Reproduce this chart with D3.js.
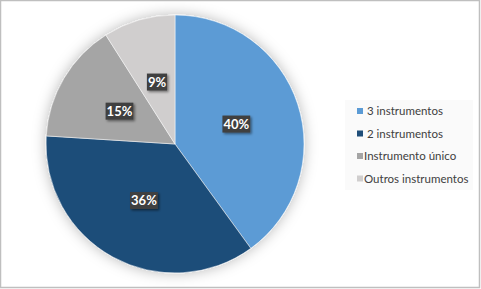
<!DOCTYPE html>
<html>
<head>
<meta charset="utf-8">
<script src="https://cdn.jsdelivr.net/npm/d3@7"></script>
<style>
  body { margin: 0; background: #fff; }
  text { font-family: Lato, "Open Sans", "DejaVu Sans", sans-serif; }
</style>
</head>
<body>
<div id="chart"></div>
<script>
// chart data
var categories = [" 3 instrumentos", " 2 instrumentos", "Instrumento único", "Outros instrumentos"];
var values = [40, 36, 15, 9];
var colors = ["#5b9bd5", "#1f4e79", "#a5a5a5", "#d0cece"];

var svgWidth = 481;
var svgHeight = 289;

var svg = d3.select("#chart")
    .append("svg")
    .attr("width", svgWidth)
    .attr("height", svgHeight);

var defs = svg.append("defs");

var pieShadow = defs.append("filter")
    .attr("id", "pieShadow")
    .attr("x", "-30%").attr("y", "-30%")
    .attr("width", "160%").attr("height", "160%");
pieShadow.append("feDropShadow")
    .attr("dx", 0).attr("dy", 0)
    .attr("stdDeviation", 7)
    .attr("flood-color", "#000")
    .attr("flood-opacity", 0.28);

var boxShadow = defs.append("filter")
    .attr("id", "boxShadow")
    .attr("x", "-30%").attr("y", "-30%")
    .attr("width", "160%").attr("height", "160%");
boxShadow.append("feDropShadow")
    .attr("dx", 1.5).attr("dy", 1.5)
    .attr("stdDeviation", 1.2)
    .attr("flood-color", "#000")
    .attr("flood-opacity", 0.45);

// outer border
svg.append("rect")
    .attr("x", 0.5).attr("y", 0.5)
    .attr("width", 479).attr("height", 287)
    .attr("fill", "#fff")
    .attr("stroke", "#bfbfbf")
    .attr("stroke-width", 1.5);

// Pie
var cx = 175, cy = 144, radius = 129;

var pie = d3.pie().sort(null).value(d => d);
var arcs = pie(values);

var arc = d3.arc().innerRadius(0).outerRadius(radius);
var labelArc = d3.arc().innerRadius(radius * 0.5).outerRadius(radius * 0.5);

var pieGroup = svg.append("g")
    .attr("transform", `translate(${cx}, ${cy})`);

pieGroup.append("g")
    .attr("filter", "url(#pieShadow)")
    .selectAll("path")
    .data(arcs)
    .enter()
    .append("path")
    .attr("d", arc)
    .attr("fill", (d, i) => colors[i])
    .attr("stroke", "#fff")
    .attr("stroke-width", 0.5);

// data labels
var labels = pieGroup.selectAll(".dlabel")
    .data(arcs)
    .enter()
    .append("g")
    .attr("class", "dlabel")
    .attr("transform", d => {
        var c = labelArc.centroid(d);
        return `translate(${c[0]}, ${c[1]})`;
    });

labels.each(function (d) {
    var g = d3.select(this);
    var txt = Math.round(d.value) + "%";
    var w = txt.length * 7.6 + 5;
    g.append("rect")
        .attr("x", -w / 2).attr("y", -8.5)
        .attr("width", w).attr("height", 17)
        .attr("fill", "#404040")
        .attr("filter", "url(#boxShadow)");
    g.append("text")
        .attr("text-anchor", "middle")
        .attr("dy", "0.36em")
        .attr("fill", "#fff")
        .attr("font-size", 13)
        .attr("font-weight", "bold")
        .text(txt);
});

// Legend
var legendGroup = svg.append("g")
    .attr("transform", "translate(345, 100)");

legendGroup.append("rect")
    .attr("x", 0).attr("y", 0)
    .attr("width", 128).attr("height", 90)
    .attr("fill", "#fafafa");

var legendItems = legendGroup.selectAll(".legend")
    .data(categories)
    .enter()
    .append("g")
    .attr("transform", (d, i) => `translate(12, ${11 + i * 22.5})`);

legendItems.append("rect")
    .attr("x", 0).attr("y", -3)
    .attr("width", 6).attr("height", 6)
    .attr("fill", (d, i) => colors[i]);

legendItems.append("text")
    .attr("x", 7)
    .attr("dy", "0.35em")
    .attr("font-size", 11.5)
    .attr("fill", "#404040")
    .style("white-space", "pre")
    .text(d => d);
</script>
</body>
</html>
